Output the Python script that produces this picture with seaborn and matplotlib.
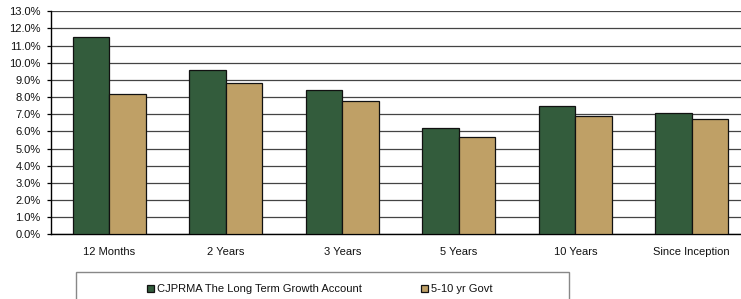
import matplotlib
matplotlib.use("Agg")
import matplotlib.pyplot as plt
import matplotlib.patches as mpatches
from matplotlib.ticker import FuncFormatter, MultipleLocator
import seaborn as sns
import pandas as pd

periods = ["12 Months", "2 Years", "3 Years", "5 Years", "10 Years", "Since Inception"]
series_names = ["CJPRMA The Long Term Growth Account", "5-10 yr Govt"]
account_vals = [11.5, 9.6, 8.4, 6.2, 7.5, 7.05]
govt_vals = [8.2, 8.8, 7.8, 5.7, 6.9, 6.7]
colors = ["#335C3C", "#BFA066"]

df = pd.DataFrame({
    "period": periods * 2,
    "series": [series_names[0]] * len(periods) + [series_names[1]] * len(periods),
    "value": account_vals + govt_vals,
})

sns.set_theme(style="white")
plt.rcParams["font.family"] = ["Liberation Sans", "DejaVu Sans"]

fig = plt.figure(figsize=(7.41, 2.99), dpi=100)
ax = fig.add_axes([51 / 741, 64.7 / 299, 699 / 741, 223 / 299])

sns.barplot(data=df, x="period", y="value", hue="series", order=periods,
            hue_order=series_names, palette=colors, saturation=1,
            width=0.627, edgecolor="#111111", linewidth=0.9, ax=ax, zorder=3)

ax.set_ylim(0, 13)
ax.set_xlim(-0.5, 5.5)
ax.yaxis.set_major_locator(MultipleLocator(1))
ax.yaxis.set_major_formatter(FuncFormatter(lambda v, p: f"{v:.1f}%"))
ax.grid(axis="y", color="#444444", linewidth=0.9, zorder=0)
ax.set_axisbelow(True)
for s in ["top", "right"]:
    ax.spines[s].set_visible(False)
ax.spines["left"].set_color("black")
ax.spines["bottom"].set_color("black")
ax.spines["left"].set_linewidth(1)
ax.spines["bottom"].set_linewidth(1)
ax.tick_params(axis="y", which="major", left=True, length=3, width=0.9,
               color="black", pad=4.5, labelsize=8, labelcolor="#111111")
ax.tick_params(axis="x", length=0, pad=9.5, labelsize=8, labelcolor="#111111")
ax.set_xlabel("")
ax.set_ylabel("")

handles, labels = ax.get_legend_handles_labels()
ax.get_legend().remove()

rect = mpatches.Rectangle((76 / 741, -0.2), 493 / 741, 0.2 + (1 - 272 / 299),
                          transform=fig.transFigure, fill=False,
                          edgecolor="#888888", linewidth=1.0, clip_on=False)
fig.patches.append(rect)

fig.legend(handles, labels, loc="center", bbox_to_anchor=(320 / 741, 1 - 289 / 299),
           ncol=2, frameon=False, fontsize=8, handlelength=0.6, handleheight=0.6,
           handletextpad=0.3, columnspacing=5.3, labelcolor="#111111")

fig.savefig("out.png", dpi=100)
